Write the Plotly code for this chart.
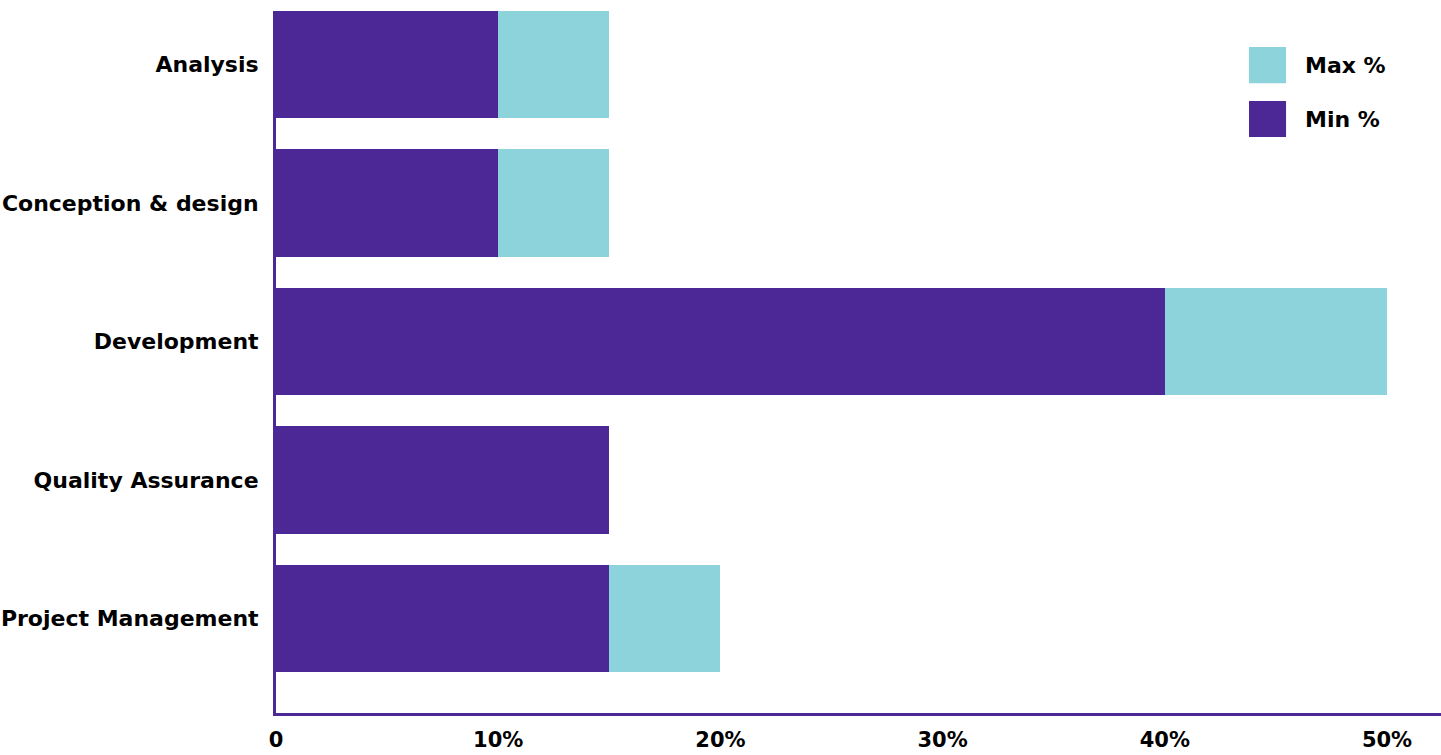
import plotly.graph_objects as go

categories = ["Analysis", "Conception & design", "Development", "Quality Assurance", "Project Management"]
min_pct = [10, 10, 40, 15, 15]
max_pct = [15, 15, 50, 15, 20]
tick_vals = [0, 10, 20, 30, 40, 50]
tick_text = ["0", "10%", "20%", "30%", "40%", "50%"]

PURPLE = "#4C2896"
TEAL = "#8DD3DB"
FONT = "DejaVu Sans"

extra = [mx - mn for mx, mn in zip(max_pct, min_pct)]

fig = go.Figure()
fig.add_trace(go.Bar(y=categories, x=min_pct, orientation="h", name="Min %",
                     marker=dict(color=PURPLE, line=dict(width=0)), showlegend=False))
fig.add_trace(go.Bar(y=categories, x=extra, orientation="h", name="Max %",
                     marker=dict(color=TEAL, line=dict(width=0)), showlegend=False))

fig.update_layout(
    width=1441, height=755,
    margin=dict(l=276, r=0, t=11, b=42),
    barmode="stack", bargap=0.227,
    plot_bgcolor="white", paper_bgcolor="white",
    font=dict(family=FONT, color="black", weight="bold"),
    xaxis=dict(range=[0, 52.43], tickvals=tick_vals, ticktext=tick_text,
               showgrid=False, zeroline=False, showline=True, linecolor=PURPLE, linewidth=3,
               ticks="", ticklabelstandoff=6,
               tickfont=dict(size=21, family=FONT, color="black", weight="bold")),
    yaxis=dict(type="category", categoryorder="array", categoryarray=categories,
               range=[4.682, -0.386], showgrid=False, zeroline=False,
               showline=True, linecolor=PURPLE, linewidth=3, ticks="", ticklabelstandoff=10,
               tickfont=dict(size=22, family=FONT, color="black", weight="bold")),
)

# legend drawn as swatches + labels
legend_items = [("Max %", TEAL, 0.9487, 0.897), ("Min %", PURPLE, 0.8718, 0.8205)]
for label, col, y1, y0 in legend_items:
    fig.add_shape(type="rect", xref="paper", yref="paper", x0=0.8352, x1=0.8670, y0=y0, y1=y1,
                  fillcolor=col, line=dict(width=0))
    fig.add_annotation(xref="paper", yref="paper", x=0.8815, y=(y0 + y1) / 2, text=label,
                       showarrow=False, xanchor="left", yanchor="middle",
                       font=dict(size=22, family=FONT, color="black", weight="bold"))

fig.write_html("out.html", config={"displayModeBar": False},
               post_script="document.body.style.margin='0';document.body.style.overflow='hidden';")
